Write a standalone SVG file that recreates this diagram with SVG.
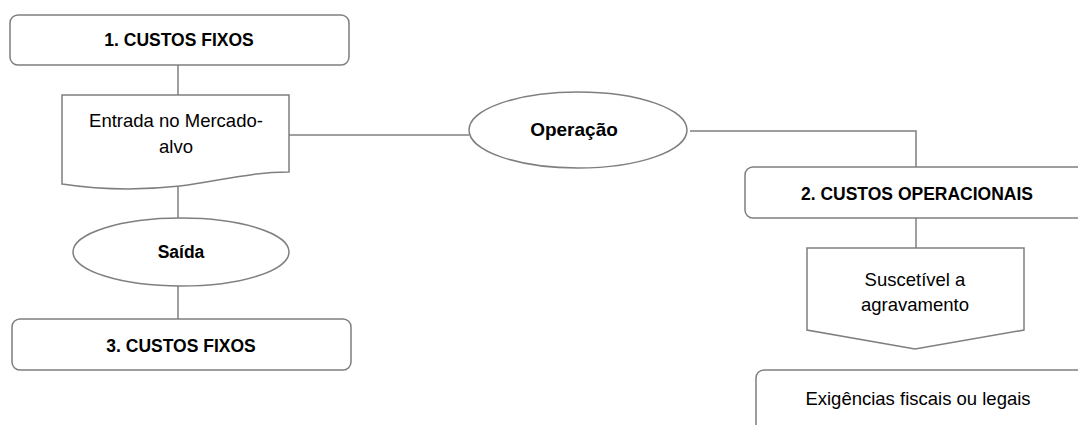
<svg xmlns="http://www.w3.org/2000/svg" width="1078" height="425" viewBox="0 0 1078 425">
<style>
.shape{fill:#fff;stroke:#7f7f7f;stroke-width:1.5}
.conn{fill:none;stroke:#7f7f7f;stroke-width:1.5}
.t{font-family:"Liberation Sans",Arial,sans-serif;font-size:18.5px;fill:#000;text-anchor:middle}
.b{font-weight:bold;font-size:17.5px}
</style>
<rect width="1078" height="425" fill="#fff"/>
<g id="connectors">
<line class="conn" x1="178" y1="65" x2="178" y2="95"/>
<line class="conn" x1="289" y1="135" x2="469" y2="135"/>
<line class="conn" x1="178" y1="186" x2="178" y2="218"/>
<line class="conn" x1="178" y1="286" x2="178" y2="319"/>
<polyline class="conn" points="690,131 916,131 916,167"/>
<line class="conn" x1="916" y1="218" x2="916" y2="248"/>
</g>
<g id="n1">
<rect class="shape" x="10" y="15" width="339" height="50" rx="8"/>
<text class="t b" x="179" y="46">1. CUSTOS FIXOS</text>
</g>
<g id="n-entrada">
<path class="shape" d="M62,95 H289 V172 C250,172 220,181 180,186 C135,191 95,189 62,184 Z"/>
<text class="t" x="176" y="127">Entrada no Mercado-</text>
<text class="t" x="176" y="153">alvo</text>
</g>
<g id="n-saida">
<ellipse class="shape" cx="181" cy="252" rx="108" ry="34"/>
<text class="t b" x="181" y="258">Saída</text>
</g>
<g id="n3">
<rect class="shape" x="12" y="319" width="339" height="51" rx="8"/>
<text class="t b" x="181" y="352">3. CUSTOS FIXOS</text>
</g>
<g id="n-operacao">
<ellipse class="shape" cx="578" cy="130" rx="109" ry="38"/>
<text class="t b" x="574" y="136" style="font-size:19px">Operação</text>
</g>
<g id="n2">
<rect class="shape" x="745" y="167" width="345" height="51" rx="8"/>
<text class="t b" x="917" y="200">2. CUSTOS OPERACIONAIS</text>
</g>
<g id="n-suscetivel">
<path class="shape" d="M807,248 H1024 V330 L915,349 L807,330 Z"/>
<text class="t" x="915" y="286">Suscetível a</text>
<text class="t" x="915" y="311">agravamento</text>
</g>
<g id="n-exigencias">
<rect class="shape" x="756" y="370" width="340" height="70" rx="8"/>
<text class="t" x="918" y="405">Exigências fiscais ou legais</text>
</g>
</svg>
